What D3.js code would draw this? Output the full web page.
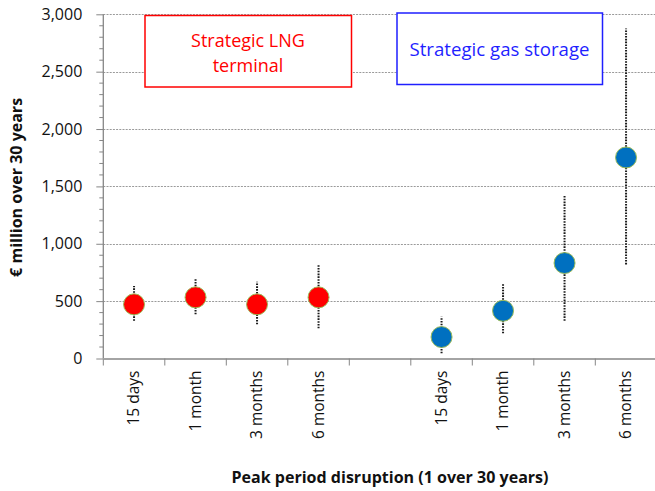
<!DOCTYPE html>
<html>
<head>
<meta charset="utf-8">
<script src="https://cdn.jsdelivr.net/npm/d3@7"></script>
<style>
  html, body { margin: 0; padding: 0; background: #fff; }
  svg { display: block; font-family: "Open Sans", "Noto Sans", sans-serif; }
</style>
</head>
<body>
<svg id="chart" width="655" height="491"></svg>
<script>
const categories = ["15 days", "1 month", "3 months", "6 months", "", "15 days", "1 month", "3 months", "6 months"];
const lngCategories = [0, 1, 2, 3];
const lngValues = [472, 533, 472, 533];
const lngLow = [329, 385, 298, 263];
const lngHigh = [631, 699, 669, 820];
const storageCategories = [5, 6, 7, 8];
const storageValues = [187, 416, 832, 1752];
const storageLow = [45, 219, 329, 820];
const storageHigh = [364, 649, 1424, 2876];
const yTicks = [0, 500, 1000, 1500, 2000, 2500, 3000];
const yTickLabels = ["0", "500", "1,000", "1,500", "2,000", "2,500", "3,000"];
const yTitle = "€ million over 30 years";
const xTitle = "Peak period disruption (1 over 30 years)";
const lngLabel = ["Strategic LNG", "terminal"];
const storageLabel = ["Strategic gas storage"];

const svg = d3.select("#chart");
const plotLeft = 103.3, plotRight = 656.8, plotTop = 14.3, plotBottom = 358.5;

const x = d3.scaleBand().domain(d3.range(categories.length)).range([plotLeft, plotRight]).padding(0);
const y = d3.scaleLinear().domain([0, 3000]).range([plotBottom, plotTop]);

// gridlines
svg.append("g").selectAll("line").data(yTicks.filter(d => d > 0)).join("line")
  .attr("x1", plotLeft).attr("x2", plotRight)
  .attr("y1", d => Math.round(y(d)) + 0.5).attr("y2", d => Math.round(y(d)) + 0.5)
  .attr("stroke", "#9a9a9a").attr("stroke-width", 1).attr("stroke-dasharray", "2,1.2");

// y axis
const yAxis = svg.append("g").attr("transform", `translate(${plotLeft},0)`)
  .call(d3.axisLeft(y).tickValues(yTicks).tickFormat((d, i) => yTickLabels[i]).tickSize(7).tickPadding(14));
yAxis.select(".domain").remove();
yAxis.selectAll(".tick line").attr("stroke", "#868686");
yAxis.selectAll(".tick text").attr("font-size", 16).attr("fill", "#111").attr("font-family", "Open Sans");
svg.append("g").attr("transform", `translate(${plotLeft},0)`)
  .selectAll("line").data(d3.range(0, 3001, 100).filter(d => d % 500 !== 0)).join("line")
  .attr("x1", -4).attr("x2", 0).attr("y1", d => y(d)).attr("y2", d => y(d))
  .attr("stroke", "#868686").attr("stroke-width", 1);
svg.append("line").attr("x1", plotLeft).attr("x2", plotLeft).attr("y1", plotTop).attr("y2", plotBottom)
  .attr("stroke", "#868686").attr("stroke-width", 1.3);

// x axis
const xAxis = svg.append("g").attr("transform", `translate(0,${plotBottom})`)
  .call(d3.axisBottom(x).tickFormat(d => categories[d]).tickSize(0));
xAxis.select(".domain").attr("stroke", "#868686").attr("stroke-width", 1.3);
xAxis.selectAll(".tick text")
  .attr("font-size", 15.5).attr("fill", "#111").attr("font-family", "Open Sans")
  .attr("transform", "rotate(-90)")
  .attr("text-anchor", "end").attr("x", -12).attr("y", 0).attr("dy", "0.35em");
svg.append("g").selectAll("line").data(d3.range(categories.length)).join("line")
  .attr("x1", d => x(d)).attr("x2", d => x(d))
  .attr("y1", plotBottom).attr("y2", plotBottom + 7)
  .attr("stroke", "#868686").attr("stroke-width", 1);

// axis titles
svg.append("text").attr("transform", `translate(22,${(plotTop + plotBottom) / 2 + 1}) rotate(-90)`)
  .attr("text-anchor", "middle").attr("font-weight", "bold").attr("font-size", 15.5)
  .attr("textLength", 179).attr("lengthAdjust", "spacingAndGlyphs")
  .attr("fill", "#111").text(yTitle);
svg.append("text").attr("x", 390).attr("y", 483)
  .attr("text-anchor", "middle").attr("font-weight", "bold").attr("font-size", 15.5)
  .attr("textLength", 317).attr("lengthAdjust", "spacingAndGlyphs")
  .attr("fill", "#111").text(xTitle);

// label boxes
svg.append("rect").attr("x", 145).attr("y", 15.5).attr("width", 206.5).attr("height", 71.5)
  .attr("fill", "#fff").attr("stroke", "#ff0000").attr("stroke-width", 1.5);
svg.append("text").attr("text-anchor", "middle").attr("fill", "#ff0000").attr("font-size", 18)
  .selectAll("tspan").data(lngLabel).join("tspan")
  .attr("x", 248).attr("y", (d, i) => 46.5 + i * 25).text(d => d);
svg.append("rect").attr("x", 397).attr("y", 13).attr("width", 205.5).attr("height", 71.5)
  .attr("fill", "#fff").attr("stroke", "#1f1fff").attr("stroke-width", 1.5);
svg.append("text").attr("text-anchor", "middle").attr("fill", "#1f1fff").attr("font-size", 18.5)
  .attr("x", 499.5).attr("y", 55.5)
  .attr("textLength", 180).attr("lengthAdjust", "spacingAndGlyphs")
  .text(storageLabel[0]);

// series
function drawSeries(cats, vals, lows, highs, color) {
  const g = svg.append("g");
  g.selectAll("line").data(cats).join("line")
    .attr("x1", (c) => x(c) + x.bandwidth() / 2).attr("x2", (c) => x(c) + x.bandwidth() / 2)
    .attr("y1", (c, i) => y(lows[i])).attr("y2", (c, i) => y(highs[i]))
    .attr("stroke", "#1a1a1a").attr("stroke-width", 2).attr("stroke-dasharray", "1.6,1.2");
  g.selectAll("circle").data(cats).join("circle")
    .attr("cx", (c) => x(c) + x.bandwidth() / 2)
    .attr("cy", (c, i) => y(vals[i]))
    .attr("r", 10.5)
    .attr("fill", color).attr("stroke", "#9bbb59").attr("stroke-width", 1);
}
drawSeries(lngCategories, lngValues, lngLow, lngHigh, "#ff0000");
drawSeries(storageCategories, storageValues, storageLow, storageHigh, "#0070c0");
</script>
</body>
</html>
